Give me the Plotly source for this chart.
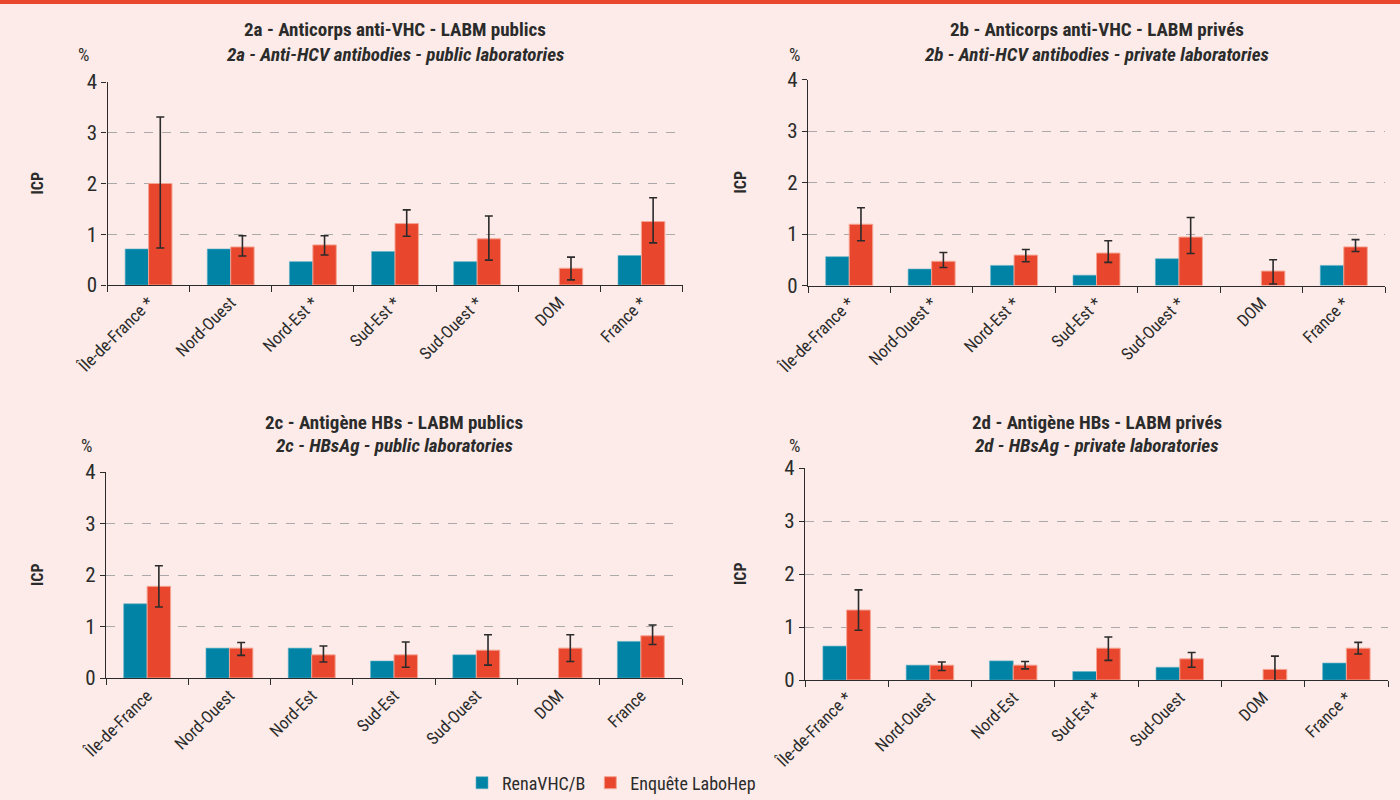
import plotly.graph_objects as go

W, H = 1400, 800

# ---------------- data ----------------
cats_a = ["Île-de-France *", "Nord-Ouest", "Nord-Est *", "Sud-Est *", "Sud-Ouest *", "DOM", "France *"]
rena_a = [0.71, 0.71, 0.46, 0.66, 0.46, None, 0.58]
labo_a = [2.00, 0.75, 0.79, 1.21, 0.91, 0.33, 1.25]
labo_a_hi = [3.31, 0.97, 0.97, 1.48, 1.36, 0.55, 1.72]
labo_a_lo = [0.73, 0.57, 0.59, 0.96, 0.49, 0.10, 0.83]

cats_b = ["Île-de-France *", "Nord-Ouest *", "Nord-Est *", "Sud-Est *", "Sud-Ouest *", "DOM", "France *"]
rena_b = [0.56, 0.32, 0.39, 0.20, 0.52, None, 0.39]
labo_b = [1.19, 0.47, 0.59, 0.63, 0.94, 0.28, 0.75]
labo_b_hi = [1.51, 0.64, 0.70, 0.87, 1.32, 0.50, 0.89]
labo_b_lo = [0.87, 0.35, 0.46, 0.45, 0.62, 0.03, 0.66]

cats_c = ["Île-de-France", "Nord-Ouest", "Nord-Est", "Sud-Est", "Sud-Ouest", "DOM", "France"]
rena_c = [1.44, 0.58, 0.58, 0.33, 0.45, None, 0.71]
labo_c = [1.78, 0.58, 0.45, 0.45, 0.54, 0.58, 0.82]
labo_c_hi = [2.18, 0.69, 0.62, 0.70, 0.84, 0.84, 1.03]
labo_c_lo = [1.38, 0.44, 0.31, 0.21, 0.25, 0.32, 0.65]

cats_d = ["Île-de-France *", "Nord-Ouest", "Nord-Est", "Sud-Est *", "Sud-Ouest", "DOM", "France *"]
rena_d = [0.64, 0.28, 0.36, 0.16, 0.24, None, 0.32]
labo_d = [1.32, 0.28, 0.28, 0.60, 0.40, 0.20, 0.60]
labo_d_hi = [1.70, 0.34, 0.35, 0.81, 0.52, 0.45, 0.71]
labo_d_lo = [0.94, 0.18, 0.21, 0.37, 0.24, -0.03, 0.49]

titles_fr = ["2a - Anticorps anti-VHC - LABM publics", "2b - Anticorps anti-VHC - LABM privés",
             "2c - Antigène HBs - LABM publics", "2d - Antigène HBs - LABM privés"]
titles_en = ["2a - Anti-HCV antibodies - public laboratories", "2b - Anti-HCV antibodies - private laboratories",
             "2c - HBsAg - public laboratories", "2d - HBsAg - private laboratories"]
series_names = ["RenaVHC/B", "Enquête LaboHep"]
y_ticks = [0, 1, 2, 3, 4]

# ---------------- style ----------------
BG = "#fcebe8"
BLUE = "#0083a5"
RED = "#e8462d"
DARK = "#2b2b2b"
FONT = "Liberation Sans Narrow, Arial Narrow, Roboto Condensed, Roboto, sans-serif"

# pixel geometry of each panel: (x_left, x_right, y_zero, y_four)
geo = [(107.5, 682.5, 285, 82), (808, 1385, 285.5, 79.5),
       (106, 682, 678, 472), (805, 1388, 680, 468)]
title_y = [(30, 54), (30, 54), (422, 445), (422, 445)]
pct_x = [83, 794, 86, 794]
icp_x = [37, 740, 37, 740]

panels = [
    (cats_a, rena_a, labo_a, labo_a_hi, labo_a_lo),
    (cats_b, rena_b, labo_b, labo_b_hi, labo_b_lo),
    (cats_c, rena_c, labo_c, labo_c_hi, labo_c_lo),
    (cats_d, rena_d, labo_d, labo_d_hi, labo_d_lo),
]

fig = go.Figure()
annotations = []
for i, (cats, rena, labo, hi, lo) in enumerate(panels):
    n = "" if i == 0 else str(i + 1)
    xa, ya = "x" + n, "y" + n
    fig.add_trace(go.Bar(x=cats, y=rena, name=series_names[0],
                         marker=dict(color=BLUE, line=dict(color="#5fb0c8", width=0.6)),
                         xaxis=xa, yaxis=ya, showlegend=(i == 0), legendgroup="r"))
    fig.add_trace(go.Bar(x=cats, y=labo, name=series_names[1],
                         marker=dict(color=RED, line=dict(color="#f5a493", width=1)),
                         error_y=dict(type="data", symmetric=False,
                                      array=[h - v for h, v in zip(hi, labo)],
                                      arrayminus=[v - l for v, l in zip(labo, lo)],
                                      color=DARK, thickness=1.6, width=4),
                         xaxis=xa, yaxis=ya, showlegend=(i == 0), legendgroup="l"))
    x0, x1, yz, y4 = geo[i]
    fig.layout["xaxis" + n] = dict(domain=[x0 / W, x1 / W], anchor=ya, type="category",
                                   showline=True, linecolor=DARK, linewidth=1.2,
                                   ticks="outside", tickson="boundaries", ticklen=6, tickcolor=DARK,
                                   tickangle=-45, tickfont=dict(family=FONT, size=17, color=DARK),
                                   showgrid=False, fixedrange=True, automargin=False)
    fig.layout["yaxis" + n] = dict(domain=[1 - yz / H, 1 - y4 / H], anchor=xa, range=[0, 4],
                                   tickvals=y_ticks, showline=True, linecolor=DARK, linewidth=1.2,
                                   ticks="outside", ticklen=5, tickcolor=DARK,
                                   tickfont=dict(family=FONT, size=21, color=DARK),
                                   showgrid=True, gridcolor="#a9a9a9", griddash="dash", gridwidth=1,
                                   zeroline=False, fixedrange=True, automargin=False)
    cx = (x0 + x1) / 2 / W
    annotations.append(dict(text="<b>" + titles_fr[i] + "</b>", x=cx, y=1 - title_y[i][0] / H,
                            xref="paper", yref="paper", showarrow=False, xanchor="center", yanchor="middle",
                            font=dict(family=FONT, size=19, color=DARK)))
    annotations.append(dict(text="<b><i>" + titles_en[i] + "</i></b>", x=cx, y=1 - title_y[i][1] / H,
                            xref="paper", yref="paper", showarrow=False, xanchor="center", yanchor="middle",
                            font=dict(family=FONT, size=19, color=DARK)))
    annotations.append(dict(text="%", x=pct_x[i] / W, y=1 - title_y[i][1] / H, xref="paper", yref="paper",
                            showarrow=False, xanchor="center", yanchor="middle",
                            font=dict(family=FONT, size=18, color=DARK)))
    annotations.append(dict(text="<b>ICP</b>", x=icp_x[i] / W, y=1 - ((yz + y4) / 2) / H, xref="paper",
                            yref="paper", showarrow=False, xanchor="center", yanchor="middle", textangle=-90,
                            font=dict(family=FONT, size=16, color=DARK)))

fig.update_layout(
    width=W, height=H, margin=dict(l=0, r=0, t=0, b=0, autoexpand=False),
    paper_bgcolor=BG, plot_bgcolor=BG,
    barmode="group", bargap=0.43, bargroupgap=0.0,
    annotations=annotations,
    shapes=[dict(type="rect", xref="paper", yref="paper", x0=0, x1=1, y0=1 - 4 / H, y1=1,
                 fillcolor=RED, line=dict(width=0), layer="above")],
    legend=dict(orientation="h", x=462 / W, xanchor="left", y=1 - 783 / H, yanchor="middle",
                font=dict(family=FONT, size=18, color=DARK), bgcolor="rgba(0,0,0,0)",
                itemwidth=30, tracegroupgap=0),
    font=dict(family=FONT, color=DARK),
)

fig.write_html("out.html", config={"displayModeBar": False},
               post_script="document.body.style.margin='0px';document.body.style.overflow='hidden';"
                           "document.body.style.background='" + BG + "';")
